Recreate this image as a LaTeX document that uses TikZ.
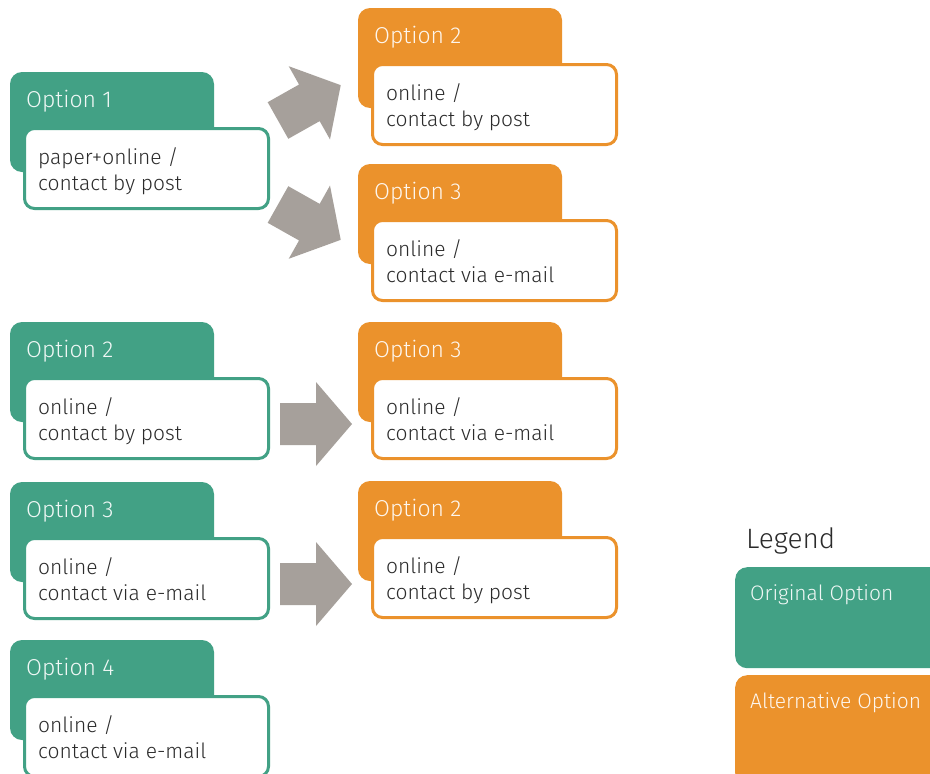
\documentclass[tikz,border=0pt]{standalone}
\usepackage{fontspec}
\setmainfont{Fira Sans Light}
\definecolor{grn}{HTML}{42A185}
\definecolor{org}{HTML}{EB922C}
\definecolor{arr}{HTML}{A6A09B}
\definecolor{txt}{HTML}{2B2B2B}
\tikzset{
  hdr/.style={fill=#1, rounded corners=12pt, minimum width=204pt, minimum height=100pt, anchor=north west, inner sep=0pt, outer sep=0pt},
  card/.style={draw=#1, line width=3pt, fill=white, rounded corners=10pt, minimum width=244pt, minimum height=80pt, anchor=north west, inner sep=0pt, outer sep=0pt},
  htext/.style={text=white, text opacity=0.92, font=\fontsize{23}{28}\selectfont, anchor=base west, inner sep=0pt},
  legtext/.style={htext, font=\fontsize{21}{26}\selectfont},
  btext/.style={text=txt, font=\fontsize{21}{26}\selectfont, anchor=base west, align=left, inner sep=0pt},
  blockarrow/.style={fill=arr}
}
\newcommand\optblock[7]{%
  \node[hdr=#2] (#1h) at (#3,#4) {};
  \node[htext] (#1t) at (#3+16,#4+35) {#5};
  \node[card=#2] (#1c) at (#3+14.5,#4+56.5) {};
  \node[btext] (#1b) at (#3+28,#4+118) {#6\\#7};
}
\newcommand\bigarrow[3]{%
  \fill[blockarrow, shift={(#1,#2)}, rotate=#3] (0,-21) -- (36,-21) -- (36,-42) -- (72,0) -- (36,42) -- (36,21) -- (0,21) -- cycle;
}
\begin{document}
\begin{tikzpicture}[x=1pt,y=-1pt]
\clip (0,0) rectangle (930,774);
\fill[white] (0,0) rectangle (930,774);
% original options
\optblock{ga}{grn}{10}{72}{Option 1}{paper+online /}{contact by post}
\optblock{gb}{grn}{10}{322}{Option 2}{online /}{contact by post}
\optblock{gc}{grn}{10}{482}{Option 3}{online /}{contact via e-mail}
\optblock{gd}{grn}{10}{640}{Option 4}{online /}{contact via e-mail}
% alternative options
\optblock{oa}{org}{358}{8}{Option 2}{online /}{contact by post}
\optblock{ob}{org}{358}{164}{Option 3}{online /}{contact via e-mail}
\optblock{oc}{org}{358}{322}{Option 3}{online /}{contact via e-mail}
\optblock{od}{org}{358}{481}{Option 2}{online /}{contact by post}
% arrows
\bigarrow{278}{120.5}{29.4}
\bigarrow{278}{204.5}{-29.4}
\bigarrow{280}{424}{0}
\bigarrow{280}{584}{0}
% legend
\node[text=txt, font=\fontsize{28}{32}\selectfont, anchor=base west, inner sep=0pt] (leg) at (746,548) {Legend};
\node[fill=grn, rounded corners=12pt, minimum width=220pt, minimum height=101pt, anchor=north west, inner sep=0pt] (lg) at (735,567) {};
\node[legtext] (lgt) at (750,600) {Original Option};
\node[fill=org, rounded corners=12pt, minimum width=220pt, minimum height=110pt, anchor=north west, inner sep=0pt] (lo) at (735,675) {};
\node[legtext] (lot) at (750,708) {Alternative Option};
\end{tikzpicture}
\end{document}
